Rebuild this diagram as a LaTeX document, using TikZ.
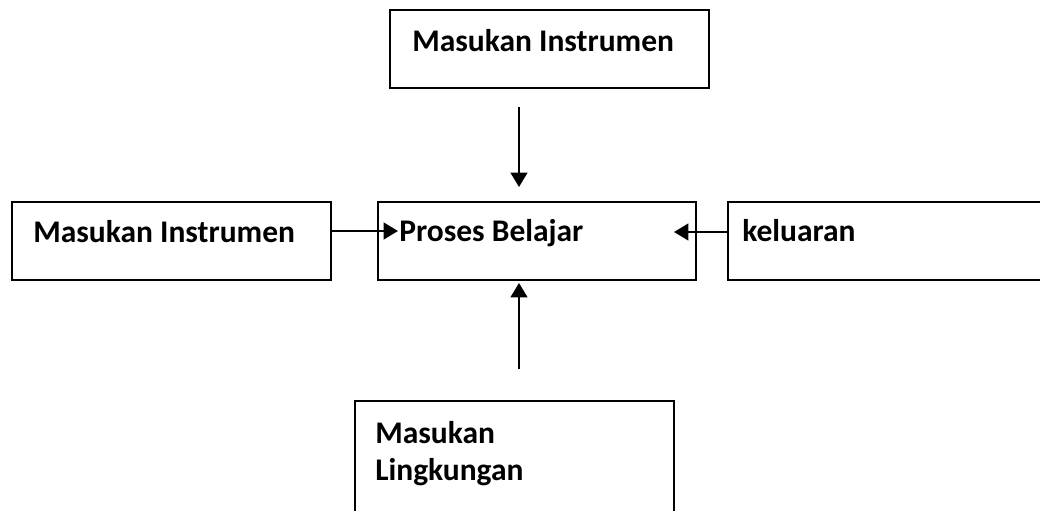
\documentclass[tikz,border=0pt]{standalone}
\usepackage{fontspec}
\setmainfont{Carlito}
\usetikzlibrary{arrows.meta}
\tikzset{
  kotak/.style={draw=black, line width=1.1pt, minimum width=7.975cm, minimum height=1.95cm,
                inner sep=0pt, anchor=north west},
  teks/.style={font=\fontsize{22.4}{26.3}\selectfont\bfseries, inner sep=0pt, anchor=base west},
  panah/.style={-{Triangle[length=3.6mm, width=4.2mm]}, line width=1.4pt, black},
}

\begin{document}
\begin{tikzpicture}
  \useasboundingbox (0,0) rectangle (26,12.75);
  \clip (0,0) rectangle (26,12.75);

  % Kotak
  \node[kotak] (atas) at (9.725,12.525) {};
  \node[kotak] (kiri) at (0.275,7.725) {};
  \node[kotak, minimum width=7.95cm] (tengah) at (9.425,7.725) {};
  \node[kotak, minimum width=8.5cm] (kanan) at (18.175,7.725) {};
  \node[kotak, minimum height=3.5cm] (bawah) at (8.85,2.75) {};

  % Teks
  \node[teks] (tatas) at (10.3,11.45) {Masukan Instrumen};
  \node[teks] (tkiri) at (0.825,6.675) {Masukan Instrumen};
  \node[teks] (ttengah) at (9.975,6.7) {Proses Belajar};
  \node[teks] (tkanan) at (18.55,6.7) {keluaran};
  \node[teks] (tbawah1) at (9.375,1.675) {Masukan};
  \node[teks] (tbawah2) at (9.375,0.75) {Lingkungan};

  % Panah
  \coordinate (p1) at (12.975,10.075);
  \coordinate (p2) at (12.975,8.075);
  \coordinate (p3) at (8.25,6.975);
  \coordinate (p4) at (9.95,6.975);
  \coordinate (p5) at (18.175,6.95);
  \coordinate (p6) at (16.85,6.95);
  \coordinate (p7) at (12.975,3.525);
  \coordinate (p8) at (12.975,5.675);
  \draw[panah] (p1) -- (p2);
  \draw[panah] (p3) -- (p4);
  \draw[panah] (p5) -- (p6);
  \draw[panah] (p7) -- (p8);
\end{tikzpicture}
\end{document}
